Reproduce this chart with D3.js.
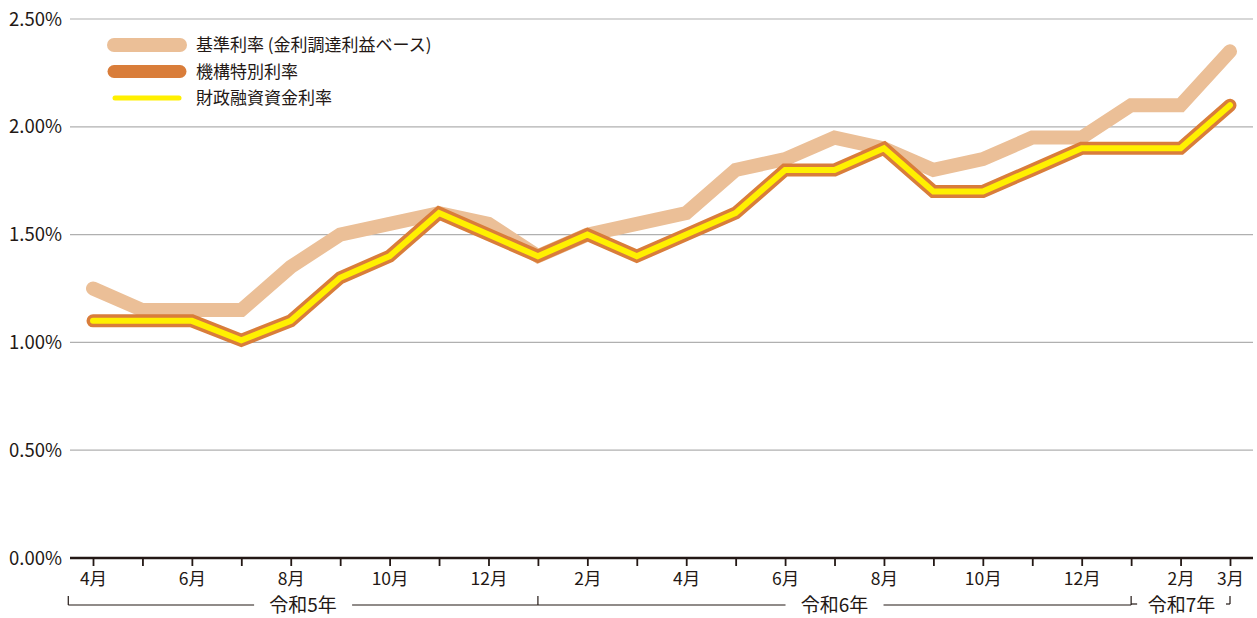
<!DOCTYPE html>
<html lang="ja">
<head>
<meta charset="utf-8">
<script src="https://cdn.jsdelivr.net/npm/d3@7"></script>
<style>
  html, body { margin: 0; padding: 0; background: #fff; }
  svg { display: block; font-family: "Noto Sans CJK JP", "Noto Sans", sans-serif; }
</style>
</head>
<body>
<svg id="chart" width="1257" height="618"></svg>
<script>
  // 令和5年4月〜令和7年3月
  const months = [
    "2023-04", "2023-05", "2023-06", "2023-07", "2023-08", "2023-09", "2023-10", "2023-11", "2023-12",
    "2024-01", "2024-02", "2024-03", "2024-04", "2024-05", "2024-06", "2024-07", "2024-08", "2024-09",
    "2024-10", "2024-11", "2024-12", "2025-01", "2025-02", "2025-03"
  ];
  const monthLabels = [
    "4月", "", "6月", "", "8月", "", "10月", "", "12月",
    "", "2月", "", "4月", "", "6月", "", "8月", "",
    "10月", "", "12月", "", "2月", "3月"
  ];
  const baseRate = [
    1.25, 1.15, 1.15, 1.15, 1.35, 1.50, 1.55, 1.60, 1.55,
    1.40, 1.50, 1.55, 1.60, 1.80, 1.85, 1.95, 1.90, 1.80,
    1.85, 1.95, 1.95, 2.10, 2.10, 2.35
  ];
  const specialRate = [
    1.10, 1.10, 1.10, 1.01, 1.10, 1.30, 1.40, 1.60, 1.50,
    1.40, 1.50, 1.40, 1.50, 1.60, 1.80, 1.80, 1.90, 1.70,
    1.70, 1.80, 1.90, 1.90, 1.90, 2.10
  ];
  const filpRate = [
    1.10, 1.10, 1.10, 1.01, 1.10, 1.30, 1.40, 1.60, 1.50,
    1.40, 1.50, 1.40, 1.50, 1.60, 1.80, 1.80, 1.90, 1.70,
    1.70, 1.80, 1.90, 1.90, 1.90, 2.10
  ];
  const yTicks = [0, 0.5, 1.0, 1.5, 2.0, 2.5];
  // 年の区切り（開始月, 終了月）
  const eras = [
    { label: "令和5年", from: "2023-04", to: "2024-01" },
    { label: "令和6年", from: "2024-01", to: "2025-01" },
    { label: "令和7年", from: "2025-01", to: "2025-03" }
  ];
  const legendItems = [
    { label: "基準利率 (金利調達利益ベース)", key: "base" },
    { label: "機構特別利率", key: "special" },
    { label: "財政融資資金利率", key: "filp" }
  ];

  const ink = "#231815";
  const colors = { base: "#ebbf97", special: "#d97d3a", filp: "#fff000" };

  const svg = d3.select("#chart");
  const x = d3.scalePoint().domain(months).range([93, 1230]);
  const y = d3.scaleLinear().domain([0, 2.5]).range([558, 19]);
  const step = x.step();

  // grid
  svg.append("g")
    .selectAll("line")
    .data(yTicks.filter((d) => d > 0))
    .join("line")
    .attr("x1", 70).attr("x2", 1253)
    .attr("y1", (d) => y(d)).attr("y2", (d) => y(d))
    .attr("stroke", "#b0b0b0").attr("stroke-width", 1.2);

  // y labels
  svg.append("g")
    .selectAll("text")
    .data(yTicks)
    .join("text")
    .attr("x", 62)
    .attr("y", (d) => y(d) + 6.5)
    .attr("text-anchor", "end")
    .attr("fill", ink)
    .style("font-size", "18.5px")
    .text((d) => d.toFixed(2) + "%");

  // x axis
  const xAxis = svg.append("g")
    .attr("transform", `translate(0,${y(0)})`)
    .call(d3.axisBottom(x).tickSize(8).tickFormat((d, i) => monthLabels[i]));
  xAxis.select(".domain").attr("d", "M70,0H1253").attr("stroke", ink).attr("stroke-width", 2.4);
  xAxis.selectAll(".tick line").attr("stroke", ink).attr("stroke-width", 1.8);
  xAxis.selectAll(".tick text")
    .attr("y", 15)
    .attr("fill", ink)
    .style("font-size", "17.5px")
    .style("font-family", "'Noto Sans CJK JP', sans-serif");

  // era brackets
  const eraY = 605;
  const eraG = svg.append("g").attr("stroke", ink).attr("stroke-width", 1.2).attr("fill", "none");
  const textGap = 49;
  eras.forEach((era, i) => {
    const x0 = i === 0 ? x(era.from) - step / 2 : x(era.from);
    const x1 = x(era.to);
    const cx = i === 2 ? (x0 + x1) / 2 + 1 : (x0 + x1) / 2;
    if (i < 2) {
      eraG.append("line").attr("x1", x0).attr("x2", cx - textGap).attr("y1", eraY).attr("y2", eraY);
      eraG.append("line").attr("x1", cx + textGap).attr("x2", x1).attr("y1", eraY).attr("y2", eraY);
    } else {
      eraG.append("line").attr("x1", x0).attr("x2", x0 + 6).attr("y1", eraY - 1).attr("y2", eraY - 1);
    }
    svg.append("text")
      .attr("x", cx)
      .attr("y", 612)
      .attr("text-anchor", "middle")
      .attr("fill", ink)
      .style("font-size", "19px")
      .text(era.label);
  });
  // vertical bracket marks
  eraG.append("line").attr("x1", x(months[0]) - step / 2).attr("x2", x(months[0]) - step / 2).attr("y1", 596).attr("y2", eraY);
  eraG.append("line").attr("x1", x("2024-01")).attr("x2", x("2024-01")).attr("y1", 596).attr("y2", eraY);
  eraG.append("line").attr("x1", x("2025-01")).attr("x2", x("2025-01")).attr("y1", 596).attr("y2", eraY);
  eraG.append("line").attr("x1", x("2025-03")).attr("x2", x("2025-03")).attr("y1", 596).attr("y2", eraY - 1);
  eraG.append("line").attr("x1", x("2025-03") - 4).attr("x2", x("2025-03")).attr("y1", eraY - 1).attr("y2", eraY - 1);

  // lines
  const line = d3.line().x((d, i) => x(months[i])).y((d) => y(d));
  const drawLine = (values, color, width) =>
    svg.append("path")
      .attr("d", line(values))
      .attr("fill", "none")
      .attr("stroke", color)
      .attr("stroke-width", width)
      .attr("stroke-linejoin", "miter")
      .attr("stroke-linecap", "round");
  drawLine(baseRate, colors.base, 14);
  drawLine(specialRate, colors.special, 13);
  drawLine(filpRate, colors.filp, 6);

  // legend
  const legend = svg.append("g");
  const legendWidths = { base: 14, special: 13, filp: 5 };
  legendItems.forEach((item, i) => {
    const ly = 45 + i * 26.5;
    const inset = item.key === "filp" ? 1 : 0;
    legend.append("line")
      .attr("x1", 114 + inset).attr("x2", 180 - inset)
      .attr("y1", ly).attr("y2", ly)
      .attr("stroke", colors[item.key])
      .attr("stroke-width", legendWidths[item.key])
      .attr("stroke-linecap", "round");
    legend.append("text")
      .attr("x", 196)
      .attr("y", ly + 6)
      .attr("fill", ink)
      .style("font-size", "17px")
      .text(item.label);
  });
</script>
</body>
</html>
